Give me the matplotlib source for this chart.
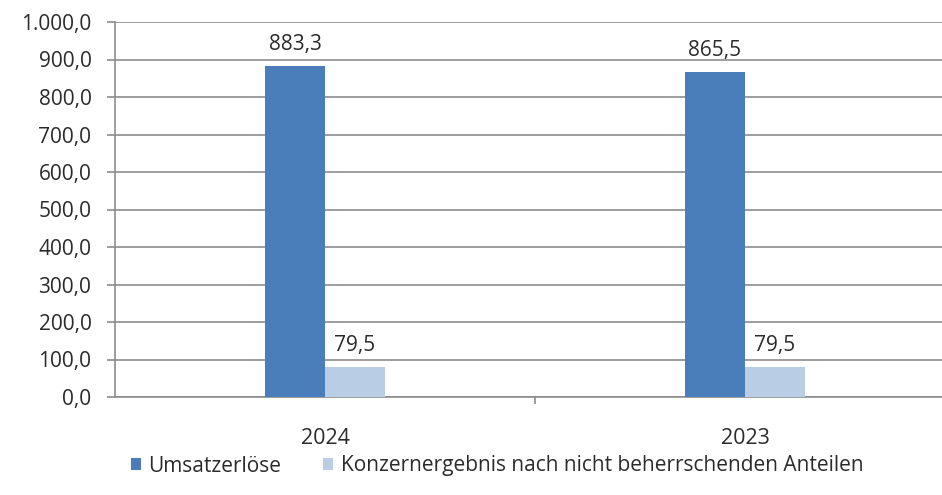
import matplotlib.pyplot as plt
import numpy as np

# data
years = ['2024', '2023']
umsatz = [883.3, 865.5]
konzern = [79.5, 79.5]
series_names = ['Umsatzerlöse', 'Konzernergebnis nach nicht beherrschenden Anteilen']
y_ticks = [0, 100, 200, 300, 400, 500, 600, 700, 800, 900, 1000]

plt.rcParams['font.family'] = ['Open Sans', 'DejaVu Sans']
txt_col = '#2b2b2b'
grid_col = '#8c8c8c'

def de_fmt(v):
    s = f'{v:,.1f}'
    return s.replace(',', 'X').replace('.', ',').replace('X', '.')

fig = plt.figure(figsize=(9.42, 4.95), dpi=100)
ax = fig.add_axes([115 / 942, 1 - 397 / 495, 840 / 942, 375 / 495])

x = np.arange(len(years))
w = 0.143
b1 = ax.bar(x - w / 2, umsatz, w, color='#4a7ebb', label=series_names[0], zorder=3)
b2 = ax.bar(x + w / 2, konzern, w, color='#b9cde5', label=series_names[1], zorder=3)

# value labels above the bars
for bars in (b1, b2):
    for r in bars:
        ax.annotate(de_fmt(r.get_height()), (r.get_x() + r.get_width() / 2, r.get_height()),
                    xytext=(0, 8), textcoords='offset points',
                    ha='center', va='bottom', fontsize=15, color=txt_col)

ax.set_xlim(-0.5, 1.5)
ax.set_ylim(0, 1000)
ax.set_yticks(y_ticks)
ax.set_yticklabels([de_fmt(v) for v in y_ticks], fontsize=15, color=txt_col)
ax.yaxis.grid(True, color=grid_col, linewidth=1.2, zorder=0)

ax.set_xticks(x)
ax.set_xticklabels(years, fontsize=15.5, color=txt_col)
ax.tick_params(axis='x', length=0, pad=22)
ax.set_xticks([0.5], minor=True)
ax.tick_params(axis='x', which='minor', length=5, color=grid_col, width=1.2)
ax.tick_params(axis='y', length=6, color=grid_col, width=1.2, pad=11)

for s in ['top', 'right']:
    ax.spines[s].set_visible(False)
for s in ['left', 'bottom']:
    ax.spines[s].set_color(grid_col)
    ax.spines[s].set_linewidth(1.2)

fig.legend(handles=[b1, b2], loc='center', bbox_to_anchor=(497 / 942, 1 - 466 / 495),
           ncol=2, frameon=False, fontsize=15, handlelength=0.5, handleheight=0.5,
           handletextpad=0.35, columnspacing=2.0, labelcolor=txt_col)

fig.savefig('out.png', dpi=100)
